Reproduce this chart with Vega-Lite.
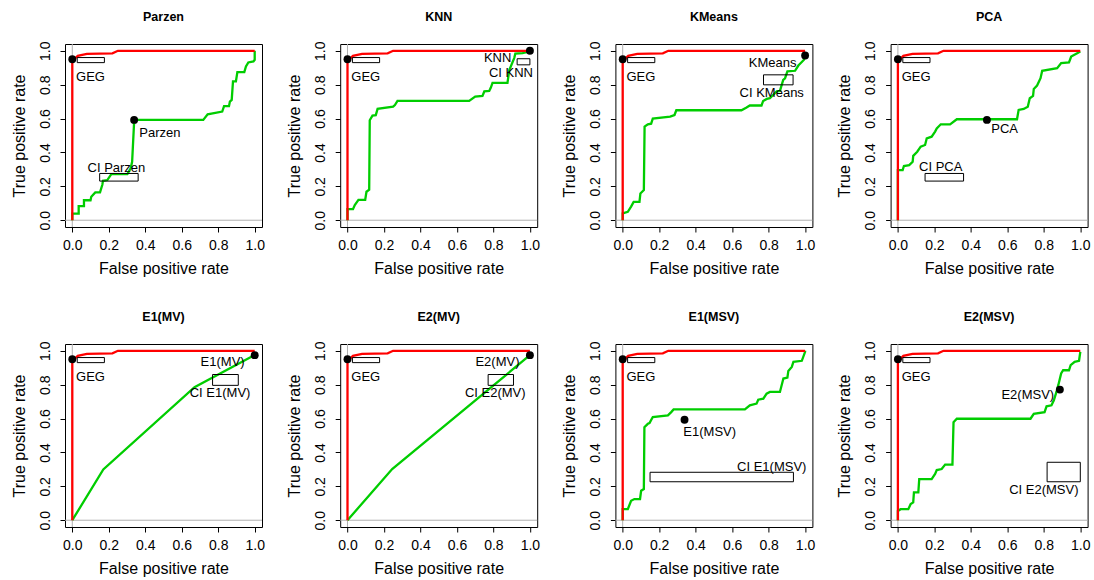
{
"$schema": "https://vega.github.io/schema/vega-lite/v6.json",
"padding": {"left": 10, "top": 10, "right": 5, "bottom": 5},
"config": {
 "font": "Liberation Sans",
 "view": {"stroke": "#000", "strokeWidth": 1},
 "axis": {"domain": false, "grid": false, "tickSize": 5, "tickColor": "#000", "tickWidth": 1, "labelFontSize": 14, "labelColor": "#000", "titleFontSize": 16, "titleFontWeight": "normal", "titleColor": "#000", "labelFlush": false, "labelOverlap": false},
 "axisX": {"labelPadding": 6, "titlePadding": 8},
 "axisY": {"labelAngle": -90, "labelAlign": "center", "labelBaseline": "bottom", "labelPadding": 8, "titlePadding": 11}
},
"data": {"values": [
{"p":"Parzen","k":"g","i":0,"x":0,"y":0},{"p":"Parzen","k":"g","i":1,"x":0,"y":0.93},{"p":"Parzen","k":"g","i":2,"x":0.015,"y":0.955},{"p":"Parzen","k":"g","i":3,"x":0.03,"y":0.97},{"p":"Parzen","k":"g","i":4,"x":0.08,"y":0.982},{"p":"Parzen","k":"g","i":5,"x":0.22,"y":0.985},{"p":"Parzen","k":"g","i":6,"x":0.25,"y":1},{"p":"Parzen","k":"g","i":7,"x":1,"y":1},
{"p":"KNN","k":"g","i":0,"x":0,"y":0},{"p":"KNN","k":"g","i":1,"x":0,"y":0.93},{"p":"KNN","k":"g","i":2,"x":0.015,"y":0.955},{"p":"KNN","k":"g","i":3,"x":0.03,"y":0.97},{"p":"KNN","k":"g","i":4,"x":0.08,"y":0.982},{"p":"KNN","k":"g","i":5,"x":0.22,"y":0.985},{"p":"KNN","k":"g","i":6,"x":0.25,"y":1},{"p":"KNN","k":"g","i":7,"x":1,"y":1},
{"p":"KMeans","k":"g","i":0,"x":0,"y":0},{"p":"KMeans","k":"g","i":1,"x":0,"y":0.93},{"p":"KMeans","k":"g","i":2,"x":0.015,"y":0.955},{"p":"KMeans","k":"g","i":3,"x":0.03,"y":0.97},{"p":"KMeans","k":"g","i":4,"x":0.08,"y":0.982},{"p":"KMeans","k":"g","i":5,"x":0.22,"y":0.985},{"p":"KMeans","k":"g","i":6,"x":0.25,"y":1},{"p":"KMeans","k":"g","i":7,"x":1,"y":1},
{"p":"PCA","k":"g","i":0,"x":0,"y":0},{"p":"PCA","k":"g","i":1,"x":0,"y":0.93},{"p":"PCA","k":"g","i":2,"x":0.015,"y":0.955},{"p":"PCA","k":"g","i":3,"x":0.03,"y":0.97},{"p":"PCA","k":"g","i":4,"x":0.08,"y":0.982},{"p":"PCA","k":"g","i":5,"x":0.22,"y":0.985},{"p":"PCA","k":"g","i":6,"x":0.25,"y":1},{"p":"PCA","k":"g","i":7,"x":1,"y":1},
{"p":"E1(MV)","k":"g","i":0,"x":0,"y":0},{"p":"E1(MV)","k":"g","i":1,"x":0,"y":0.93},{"p":"E1(MV)","k":"g","i":2,"x":0.015,"y":0.955},{"p":"E1(MV)","k":"g","i":3,"x":0.03,"y":0.97},{"p":"E1(MV)","k":"g","i":4,"x":0.08,"y":0.982},{"p":"E1(MV)","k":"g","i":5,"x":0.22,"y":0.985},{"p":"E1(MV)","k":"g","i":6,"x":0.25,"y":1},{"p":"E1(MV)","k":"g","i":7,"x":1,"y":1},
{"p":"E2(MV)","k":"g","i":0,"x":0,"y":0},{"p":"E2(MV)","k":"g","i":1,"x":0,"y":0.93},{"p":"E2(MV)","k":"g","i":2,"x":0.015,"y":0.955},{"p":"E2(MV)","k":"g","i":3,"x":0.03,"y":0.97},{"p":"E2(MV)","k":"g","i":4,"x":0.08,"y":0.982},{"p":"E2(MV)","k":"g","i":5,"x":0.22,"y":0.985},{"p":"E2(MV)","k":"g","i":6,"x":0.25,"y":1},{"p":"E2(MV)","k":"g","i":7,"x":1,"y":1},
{"p":"E1(MSV)","k":"g","i":0,"x":0,"y":0},{"p":"E1(MSV)","k":"g","i":1,"x":0,"y":0.93},{"p":"E1(MSV)","k":"g","i":2,"x":0.015,"y":0.955},{"p":"E1(MSV)","k":"g","i":3,"x":0.03,"y":0.97},{"p":"E1(MSV)","k":"g","i":4,"x":0.08,"y":0.982},{"p":"E1(MSV)","k":"g","i":5,"x":0.22,"y":0.985},{"p":"E1(MSV)","k":"g","i":6,"x":0.25,"y":1},{"p":"E1(MSV)","k":"g","i":7,"x":1,"y":1},
{"p":"E2(MSV)","k":"g","i":0,"x":0,"y":0},{"p":"E2(MSV)","k":"g","i":1,"x":0,"y":0.93},{"p":"E2(MSV)","k":"g","i":2,"x":0.015,"y":0.955},{"p":"E2(MSV)","k":"g","i":3,"x":0.03,"y":0.97},{"p":"E2(MSV)","k":"g","i":4,"x":0.08,"y":0.982},{"p":"E2(MSV)","k":"g","i":5,"x":0.22,"y":0.985},{"p":"E2(MSV)","k":"g","i":6,"x":0.25,"y":1},{"p":"E2(MSV)","k":"g","i":7,"x":1,"y":1},

{"p":"Parzen","k":"r","i":0,"x":0,"y":0},{"p":"Parzen","k":"r","i":1,"x":0,"y":0.039},{"p":"Parzen","k":"r","i":2,"x":0.035,"y":0.039},{"p":"Parzen","k":"r","i":3,"x":0.035,"y":0.083},{"p":"Parzen","k":"r","i":4,"x":0.064,"y":0.083},{"p":"Parzen","k":"r","i":5,"x":0.064,"y":0.118},{"p":"Parzen","k":"r","i":6,"x":0.1,"y":0.118},{"p":"Parzen","k":"r","i":7,"x":0.104,"y":0.138},{"p":"Parzen","k":"r","i":8,"x":0.126,"y":0.164},{"p":"Parzen","k":"r","i":9,"x":0.152,"y":0.164},{"p":"Parzen","k":"r","i":10,"x":0.165,"y":0.211},{"p":"Parzen","k":"r","i":11,"x":0.168,"y":0.233},{"p":"Parzen","k":"r","i":12,"x":0.192,"y":0.237},{"p":"Parzen","k":"r","i":13,"x":0.214,"y":0.272},{"p":"Parzen","k":"r","i":14,"x":0.302,"y":0.272},{"p":"Parzen","k":"r","i":15,"x":0.32,"y":0.306},{"p":"Parzen","k":"r","i":16,"x":0.328,"y":0.345},{"p":"Parzen","k":"r","i":17,"x":0.339,"y":0.582},{"p":"Parzen","k":"r","i":18,"x":0.342,"y":0.592},{"p":"Parzen","k":"r","i":19,"x":0.718,"y":0.592},{"p":"Parzen","k":"r","i":20,"x":0.742,"y":0.625},{"p":"Parzen","k":"r","i":21,"x":0.822,"y":0.641},{"p":"Parzen","k":"r","i":22,"x":0.832,"y":0.673},{"p":"Parzen","k":"r","i":23,"x":0.859,"y":0.673},{"p":"Parzen","k":"r","i":24,"x":0.864,"y":0.7},{"p":"Parzen","k":"r","i":25,"x":0.874,"y":0.71},{"p":"Parzen","k":"r","i":26,"x":0.881,"y":0.819},{"p":"Parzen","k":"r","i":27,"x":0.897,"y":0.819},{"p":"Parzen","k":"r","i":28,"x":0.905,"y":0.874},{"p":"Parzen","k":"r","i":29,"x":0.943,"y":0.874},{"p":"Parzen","k":"r","i":30,"x":0.952,"y":0.907},{"p":"Parzen","k":"r","i":31,"x":0.965,"y":0.931},{"p":"Parzen","k":"r","i":32,"x":0.993,"y":0.937},{"p":"Parzen","k":"r","i":33,"x":1,"y":0.947},{"p":"Parzen","k":"r","i":34,"x":1,"y":1},

{"p":"KNN","k":"r","i":0,"x":0,"y":0},{"p":"KNN","k":"r","i":1,"x":0,"y":0.065},{"p":"KNN","k":"r","i":2,"x":0.03,"y":0.065},{"p":"KNN","k":"r","i":3,"x":0.04,"y":0.09},{"p":"KNN","k":"r","i":4,"x":0.06,"y":0.12},{"p":"KNN","k":"r","i":5,"x":0.097,"y":0.12},{"p":"KNN","k":"r","i":6,"x":0.104,"y":0.168},{"p":"KNN","k":"r","i":7,"x":0.119,"y":0.18},{"p":"KNN","k":"r","i":8,"x":0.122,"y":0.59},{"p":"KNN","k":"r","i":9,"x":0.137,"y":0.617},{"p":"KNN","k":"r","i":10,"x":0.155,"y":0.62},{"p":"KNN","k":"r","i":11,"x":0.165,"y":0.657},{"p":"KNN","k":"r","i":12,"x":0.25,"y":0.67},{"p":"KNN","k":"r","i":13,"x":0.26,"y":0.68},{"p":"KNN","k":"r","i":14,"x":0.274,"y":0.704},{"p":"KNN","k":"r","i":15,"x":0.667,"y":0.704},{"p":"KNN","k":"r","i":16,"x":0.7,"y":0.73},{"p":"KNN","k":"r","i":17,"x":0.74,"y":0.734},{"p":"KNN","k":"r","i":18,"x":0.75,"y":0.76},{"p":"KNN","k":"r","i":19,"x":0.777,"y":0.763},{"p":"KNN","k":"r","i":20,"x":0.786,"y":0.783},{"p":"KNN","k":"r","i":21,"x":0.795,"y":0.81},{"p":"KNN","k":"r","i":22,"x":0.877,"y":0.81},{"p":"KNN","k":"r","i":23,"x":0.887,"y":0.886},{"p":"KNN","k":"r","i":24,"x":0.914,"y":0.957},{"p":"KNN","k":"r","i":25,"x":0.92,"y":0.983},{"p":"KNN","k":"r","i":26,"x":0.96,"y":0.986},{"p":"KNN","k":"r","i":27,"x":1,"y":0.996},{"p":"KNN","k":"r","i":28,"x":1,"y":1},

{"p":"KMeans","k":"r","i":0,"x":0,"y":0},{"p":"KMeans","k":"r","i":1,"x":0,"y":0.04},{"p":"KMeans","k":"r","i":2,"x":0.028,"y":0.05},{"p":"KMeans","k":"r","i":3,"x":0.046,"y":0.08},{"p":"KMeans","k":"r","i":4,"x":0.06,"y":0.108},{"p":"KMeans","k":"r","i":5,"x":0.092,"y":0.108},{"p":"KMeans","k":"r","i":6,"x":0.097,"y":0.158},{"p":"KMeans","k":"r","i":7,"x":0.116,"y":0.178},{"p":"KMeans","k":"r","i":8,"x":0.12,"y":0.552},{"p":"KMeans","k":"r","i":9,"x":0.138,"y":0.566},{"p":"KMeans","k":"r","i":10,"x":0.156,"y":0.57},{"p":"KMeans","k":"r","i":11,"x":0.165,"y":0.6},{"p":"KMeans","k":"r","i":12,"x":0.26,"y":0.611},{"p":"KMeans","k":"r","i":13,"x":0.284,"y":0.621},{"p":"KMeans","k":"r","i":14,"x":0.294,"y":0.649},{"p":"KMeans","k":"r","i":15,"x":0.651,"y":0.649},{"p":"KMeans","k":"r","i":16,"x":0.679,"y":0.665},{"p":"KMeans","k":"r","i":17,"x":0.697,"y":0.677},{"p":"KMeans","k":"r","i":18,"x":0.761,"y":0.677},{"p":"KMeans","k":"r","i":19,"x":0.77,"y":0.704},{"p":"KMeans","k":"r","i":20,"x":0.79,"y":0.716},{"p":"KMeans","k":"r","i":21,"x":0.807,"y":0.72},{"p":"KMeans","k":"r","i":22,"x":0.844,"y":0.76},{"p":"KMeans","k":"r","i":23,"x":0.862,"y":0.763},{"p":"KMeans","k":"r","i":24,"x":0.88,"y":0.828},{"p":"KMeans","k":"r","i":25,"x":0.89,"y":0.838},{"p":"KMeans","k":"r","i":26,"x":0.903,"y":0.878},{"p":"KMeans","k":"r","i":27,"x":0.945,"y":0.882},{"p":"KMeans","k":"r","i":28,"x":0.963,"y":0.913},{"p":"KMeans","k":"r","i":29,"x":0.994,"y":0.947},{"p":"KMeans","k":"r","i":30,"x":1,"y":0.972},

{"p":"PCA","k":"r","i":0,"x":0,"y":0},{"p":"PCA","k":"r","i":1,"x":0,"y":0.296},{"p":"PCA","k":"r","i":2,"x":0.026,"y":0.296},{"p":"PCA","k":"r","i":3,"x":0.033,"y":0.32},{"p":"PCA","k":"r","i":4,"x":0.062,"y":0.325},{"p":"PCA","k":"r","i":5,"x":0.081,"y":0.345},{"p":"PCA","k":"r","i":6,"x":0.084,"y":0.38},{"p":"PCA","k":"r","i":7,"x":0.106,"y":0.404},{"p":"PCA","k":"r","i":8,"x":0.125,"y":0.434},{"p":"PCA","k":"r","i":9,"x":0.149,"y":0.444},{"p":"PCA","k":"r","i":10,"x":0.158,"y":0.483},{"p":"PCA","k":"r","i":11,"x":0.185,"y":0.493},{"p":"PCA","k":"r","i":12,"x":0.204,"y":0.523},{"p":"PCA","k":"r","i":13,"x":0.213,"y":0.542},{"p":"PCA","k":"r","i":14,"x":0.235,"y":0.566},{"p":"PCA","k":"r","i":15,"x":0.286,"y":0.566},{"p":"PCA","k":"r","i":16,"x":0.323,"y":0.596},{"p":"PCA","k":"r","i":17,"x":0.653,"y":0.596},{"p":"PCA","k":"r","i":18,"x":0.662,"y":0.651},{"p":"PCA","k":"r","i":19,"x":0.69,"y":0.657},{"p":"PCA","k":"r","i":20,"x":0.712,"y":0.67},{"p":"PCA","k":"r","i":21,"x":0.723,"y":0.72},{"p":"PCA","k":"r","i":22,"x":0.741,"y":0.734},{"p":"PCA","k":"r","i":23,"x":0.745,"y":0.775},{"p":"PCA","k":"r","i":24,"x":0.763,"y":0.795},{"p":"PCA","k":"r","i":25,"x":0.782,"y":0.838},{"p":"PCA","k":"r","i":26,"x":0.791,"y":0.882},{"p":"PCA","k":"r","i":27,"x":0.873,"y":0.897},{"p":"PCA","k":"r","i":28,"x":0.895,"y":0.927},{"p":"PCA","k":"r","i":29,"x":0.938,"y":0.931},{"p":"PCA","k":"r","i":30,"x":0.95,"y":0.966},{"p":"PCA","k":"r","i":31,"x":0.983,"y":0.986},{"p":"PCA","k":"r","i":32,"x":1,"y":0.996},

{"p":"E1(MV)","k":"r","i":0,"x":0,"y":0},{"p":"E1(MV)","k":"r","i":1,"x":0.17,"y":0.3},{"p":"E1(MV)","k":"r","i":2,"x":0.67,"y":0.785},{"p":"E1(MV)","k":"r","i":3,"x":1,"y":0.975},
{"p":"E2(MV)","k":"r","i":0,"x":0,"y":0},{"p":"E2(MV)","k":"r","i":1,"x":0.245,"y":0.302},{"p":"E2(MV)","k":"r","i":2,"x":1,"y":0.974},

{"p":"E1(MSV)","k":"r","i":0,"x":0,"y":0},{"p":"E1(MSV)","k":"r","i":1,"x":0,"y":0.065},{"p":"E1(MSV)","k":"r","i":2,"x":0.028,"y":0.065},{"p":"E1(MSV)","k":"r","i":3,"x":0.046,"y":0.115},{"p":"E1(MSV)","k":"r","i":4,"x":0.064,"y":0.125},{"p":"E1(MSV)","k":"r","i":5,"x":0.095,"y":0.125},{"p":"E1(MSV)","k":"r","i":6,"x":0.101,"y":0.174},{"p":"E1(MSV)","k":"r","i":7,"x":0.116,"y":0.184},{"p":"E1(MSV)","k":"r","i":8,"x":0.119,"y":0.549},{"p":"E1(MSV)","k":"r","i":9,"x":0.138,"y":0.569},{"p":"E1(MSV)","k":"r","i":10,"x":0.147,"y":0.573},{"p":"E1(MSV)","k":"r","i":11,"x":0.165,"y":0.609},{"p":"E1(MSV)","k":"r","i":12,"x":0.248,"y":0.619},{"p":"E1(MSV)","k":"r","i":13,"x":0.266,"y":0.638},{"p":"E1(MSV)","k":"r","i":14,"x":0.279,"y":0.654},{"p":"E1(MSV)","k":"r","i":15,"x":0.67,"y":0.654},{"p":"E1(MSV)","k":"r","i":16,"x":0.697,"y":0.678},{"p":"E1(MSV)","k":"r","i":17,"x":0.734,"y":0.688},{"p":"E1(MSV)","k":"r","i":18,"x":0.743,"y":0.711},{"p":"E1(MSV)","k":"r","i":19,"x":0.771,"y":0.717},{"p":"E1(MSV)","k":"r","i":20,"x":0.789,"y":0.747},{"p":"E1(MSV)","k":"r","i":21,"x":0.807,"y":0.757},{"p":"E1(MSV)","k":"r","i":22,"x":0.862,"y":0.757},{"p":"E1(MSV)","k":"r","i":23,"x":0.881,"y":0.836},{"p":"E1(MSV)","k":"r","i":24,"x":0.903,"y":0.842},{"p":"E1(MSV)","k":"r","i":25,"x":0.908,"y":0.881},{"p":"E1(MSV)","k":"r","i":26,"x":0.927,"y":0.905},{"p":"E1(MSV)","k":"r","i":27,"x":0.936,"y":0.935},{"p":"E1(MSV)","k":"r","i":28,"x":0.982,"y":0.941},{"p":"E1(MSV)","k":"r","i":29,"x":1,"y":0.994},{"p":"E1(MSV)","k":"r","i":30,"x":1,"y":1},

{"p":"E2(MSV)","k":"r","i":0,"x":0,"y":0},{"p":"E2(MSV)","k":"r","i":1,"x":0,"y":0.055},{"p":"E2(MSV)","k":"r","i":2,"x":0.015,"y":0.065},{"p":"E2(MSV)","k":"r","i":3,"x":0.057,"y":0.065},{"p":"E2(MSV)","k":"r","i":4,"x":0.07,"y":0.095},{"p":"E2(MSV)","k":"r","i":5,"x":0.084,"y":0.105},{"p":"E2(MSV)","k":"r","i":6,"x":0.088,"y":0.164},{"p":"E2(MSV)","k":"r","i":7,"x":0.112,"y":0.164},{"p":"E2(MSV)","k":"r","i":8,"x":0.117,"y":0.243},{"p":"E2(MSV)","k":"r","i":9,"x":0.185,"y":0.243},{"p":"E2(MSV)","k":"r","i":10,"x":0.204,"y":0.273},{"p":"E2(MSV)","k":"r","i":11,"x":0.213,"y":0.296},{"p":"E2(MSV)","k":"r","i":12,"x":0.24,"y":0.302},{"p":"E2(MSV)","k":"r","i":13,"x":0.259,"y":0.328},{"p":"E2(MSV)","k":"r","i":14,"x":0.299,"y":0.328},{"p":"E2(MSV)","k":"r","i":15,"x":0.305,"y":0.579},{"p":"E2(MSV)","k":"r","i":16,"x":0.323,"y":0.599},{"p":"E2(MSV)","k":"r","i":17,"x":0.727,"y":0.599},{"p":"E2(MSV)","k":"r","i":18,"x":0.745,"y":0.628},{"p":"E2(MSV)","k":"r","i":19,"x":0.804,"y":0.638},{"p":"E2(MSV)","k":"r","i":20,"x":0.815,"y":0.672},{"p":"E2(MSV)","k":"r","i":21,"x":0.842,"y":0.678},{"p":"E2(MSV)","k":"r","i":22,"x":0.855,"y":0.708},{"p":"E2(MSV)","k":"r","i":23,"x":0.87,"y":0.76},{"p":"E2(MSV)","k":"r","i":24,"x":0.88,"y":0.8},{"p":"E2(MSV)","k":"r","i":25,"x":0.895,"y":0.866},{"p":"E2(MSV)","k":"r","i":26,"x":0.906,"y":0.885},{"p":"E2(MSV)","k":"r","i":27,"x":0.938,"y":0.885},{"p":"E2(MSV)","k":"r","i":28,"x":0.947,"y":0.915},{"p":"E2(MSV)","k":"r","i":29,"x":0.969,"y":0.935},{"p":"E2(MSV)","k":"r","i":30,"x":0.993,"y":0.941},{"p":"E2(MSV)","k":"r","i":31,"x":1,"y":0.994},

{"p":"Parzen","k":"pt","t":"GEG","x":0,"y":0.95},{"p":"Parzen","k":"pt","t":"Parzen","x":0.339,"y":0.592},
{"p":"KNN","k":"pt","t":"GEG","x":0,"y":0.95},{"p":"KNN","k":"pt","t":"KNN","x":1,"y":1},
{"p":"KMeans","k":"pt","t":"GEG","x":0,"y":0.95},{"p":"KMeans","k":"pt","t":"KMeans","x":1,"y":0.972},
{"p":"PCA","k":"pt","t":"GEG","x":0,"y":0.95},{"p":"PCA","k":"pt","t":"PCA","x":0.488,"y":0.592},
{"p":"E1(MV)","k":"pt","t":"GEG","x":0,"y":0.95},{"p":"E1(MV)","k":"pt","t":"E1(MV)","x":1,"y":0.974},
{"p":"E2(MV)","k":"pt","t":"GEG","x":0,"y":0.95},{"p":"E2(MV)","k":"pt","t":"E2(MV)","x":1,"y":0.974},
{"p":"E1(MSV)","k":"pt","t":"GEG","x":0,"y":0.95},{"p":"E1(MSV)","k":"pt","t":"E1(MSV)","x":0.339,"y":0.593},
{"p":"E2(MSV)","k":"pt","t":"GEG","x":0,"y":0.95},{"p":"E2(MSV)","k":"pt","t":"E2(MSV)","x":0.888,"y":0.771},

{"p":"Parzen","k":"ci","x":0.027,"x2":0.176,"y":0.93,"y2":0.96},{"p":"Parzen","k":"ci","x":0.15,"x2":0.361,"y":0.231,"y2":0.276},
{"p":"KNN","k":"ci","x":0.027,"x2":0.176,"y":0.93,"y2":0.96},{"p":"KNN","k":"ci","x":0.93,"x2":1,"y":0.917,"y2":0.953},
{"p":"KMeans","k":"ci","x":0.027,"x2":0.176,"y":0.93,"y2":0.96},{"p":"KMeans","k":"ci","x":0.772,"x2":0.934,"y":0.799,"y2":0.858},
{"p":"PCA","k":"ci","x":0.027,"x2":0.176,"y":0.93,"y2":0.96},{"p":"PCA","k":"ci","x":0.149,"x2":0.36,"y":0.231,"y2":0.276},
{"p":"E1(MV)","k":"ci","x":0.027,"x2":0.176,"y":0.93,"y2":0.96},{"p":"E1(MV)","k":"ci","x":0.769,"x2":0.91,"y":0.796,"y2":0.86},
{"p":"E2(MV)","k":"ci","x":0.027,"x2":0.176,"y":0.93,"y2":0.96},{"p":"E2(MV)","k":"ci","x":0.771,"x2":0.91,"y":0.796,"y2":0.86},
{"p":"E1(MSV)","k":"ci","x":0.027,"x2":0.176,"y":0.93,"y2":0.96},{"p":"E1(MSV)","k":"ci","x":0.15,"x2":0.936,"y":0.227,"y2":0.283},
{"p":"E2(MSV)","k":"ci","x":0.027,"x2":0.176,"y":0.93,"y2":0.96},{"p":"E2(MSV)","k":"ci","x":0.818,"x2":1,"y":0.227,"y2":0.342},

{"p":"Parzen","k":"lab","t":"GEG","x":0.1,"y":0.845},{"p":"Parzen","k":"lab","t":"Parzen","x":0.48,"y":0.513},{"p":"Parzen","k":"lab","t":"CI Parzen","x":0.242,"y":0.31},
{"p":"KNN","k":"lab","t":"GEG","x":0.1,"y":0.845},{"p":"KNN","k":"lab","t":"KNN","x":0.823,"y":0.957},{"p":"KNN","k":"lab","t":"CI KNN","x":0.896,"y":0.868},
{"p":"KMeans","k":"lab","t":"GEG","x":0.1,"y":0.845},{"p":"KMeans","k":"lab","t":"KMeans","x":0.822,"y":0.927},{"p":"KMeans","k":"lab","t":"CI KMeans","x":0.817,"y":0.75},
{"p":"PCA","k":"lab","t":"GEG","x":0.1,"y":0.845},{"p":"PCA","k":"lab","t":"PCA","x":0.585,"y":0.536},{"p":"PCA","k":"lab","t":"CI PCA","x":0.235,"y":0.312},
{"p":"E1(MV)","k":"lab","t":"GEG","x":0.1,"y":0.845},{"p":"E1(MV)","k":"lab","t":"E1(MV)","x":0.824,"y":0.935},{"p":"E1(MV)","k":"lab","t":"CI E1(MV)","x":0.81,"y":0.751},
{"p":"E2(MV)","k":"lab","t":"GEG","x":0.1,"y":0.845},{"p":"E2(MV)","k":"lab","t":"E2(MV)","x":0.822,"y":0.935},{"p":"E2(MV)","k":"lab","t":"CI E2(MV)","x":0.81,"y":0.751},
{"p":"E1(MSV)","k":"lab","t":"GEG","x":0.1,"y":0.845},{"p":"E1(MSV)","k":"lab","t":"E1(MSV)","x":0.477,"y":0.52},{"p":"E1(MSV)","k":"lab","t":"CI E1(MSV)","x":0.817,"y":0.316},
{"p":"E2(MSV)","k":"lab","t":"GEG","x":0.1,"y":0.845},{"p":"E2(MSV)","k":"lab","t":"E2(MSV)","x":0.712,"y":0.737},{"p":"E2(MSV)","k":"lab","t":"CI E2(MSV)","x":0.8,"y":0.178}
]},
"facet": {"field": "p", "type": "nominal", "title": null, "sort": ["Parzen","KNN","KMeans","PCA","E1(MV)","E2(MV)","E1(MSV)","E2(MSV)"],
  "header": {"title": null, "labelFont": "Liberation Sans", "labelFontSize": 12.5, "labelFontWeight": "bold", "labelColor": "#000", "labelPadding": 18}},
"columns": 4,
"spacing": {"row": 33, "column": 20.2},
"resolve": {"axis": {"x": "independent", "y": "independent"}},
"spec": {
 "width": 197, "height": 183,
 "layer": [
  {"transform": [{"filter": "datum.k == 'pt' && datum.t == 'GEG'"}],
   "mark": {"type": "rule", "color": "#b0b0b0", "strokeWidth": 1},
   "encoding": {"x": {"datum": 0, "type": "quantitative", "scale": {"domain": [-0.04, 1.04], "nice": false, "zero": false}, "axis": {"title": "False positive rate", "values": [0,0.2,0.4,0.6,0.8,1], "format": ".1f"}}}},
  {"transform": [{"filter": "datum.k == 'pt' && datum.t == 'GEG'"}],
   "mark": {"type": "rule", "color": "#b0b0b0", "strokeWidth": 1},
   "encoding": {"y": {"datum": 0, "type": "quantitative", "scale": {"domain": [-0.04, 1.04], "nice": false, "zero": false}, "axis": {"title": "True positive rate", "values": [0,0.2,0.4,0.6,0.8,1], "format": ".1f"}}}},
  {"transform": [{"filter": "datum.k == 'r'"}],
   "mark": {"type": "line", "color": "#00cd00", "strokeWidth": 2.3, "interpolate": "linear"},
   "encoding": {
     "x": {"field": "x", "type": "quantitative", "scale": {"domain": [-0.04, 1.04], "nice": false, "zero": false}, "axis": {"title": "False positive rate", "values": [0,0.2,0.4,0.6,0.8,1], "format": ".1f"}},
     "y": {"field": "y", "type": "quantitative", "scale": {"domain": [-0.04, 1.04], "nice": false, "zero": false}, "axis": {"title": "True positive rate", "values": [0,0.2,0.4,0.6,0.8,1], "format": ".1f"}},
     "order": {"field": "i", "type": "quantitative"}}},
  {"transform": [{"filter": "datum.k == 'g'"}],
   "mark": {"type": "line", "color": "#ff0000", "strokeWidth": 2.3, "interpolate": "linear"},
   "encoding": {
     "x": {"field": "x", "type": "quantitative", "scale": {"domain": [-0.04, 1.04], "nice": false, "zero": false}, "axis": {"title": "False positive rate", "values": [0,0.2,0.4,0.6,0.8,1], "format": ".1f"}},
     "y": {"field": "y", "type": "quantitative", "scale": {"domain": [-0.04, 1.04], "nice": false, "zero": false}, "axis": {"title": "True positive rate", "values": [0,0.2,0.4,0.6,0.8,1], "format": ".1f"}},
     "order": {"field": "i", "type": "quantitative"}}},
  {"transform": [{"filter": "datum.k == 'ci'"}],
   "mark": {"type": "rect", "fillOpacity": 0, "fill": "#ffffff", "stroke": "#000", "strokeWidth": 1},
   "encoding": {
     "x": {"field": "x", "type": "quantitative", "scale": {"domain": [-0.04, 1.04], "nice": false, "zero": false}, "axis": {"title": "False positive rate", "values": [0,0.2,0.4,0.6,0.8,1], "format": ".1f"}},
     "x2": {"field": "x2"},
     "y": {"field": "y", "type": "quantitative", "scale": {"domain": [-0.04, 1.04], "nice": false, "zero": false}, "axis": {"title": "True positive rate", "values": [0,0.2,0.4,0.6,0.8,1], "format": ".1f"}},
     "y2": {"field": "y2"}}},
  {"transform": [{"filter": "datum.k == 'pt'"}],
   "mark": {"type": "circle", "size": 62, "color": "#000", "opacity": 1},
   "encoding": {
     "x": {"field": "x", "type": "quantitative", "scale": {"domain": [-0.04, 1.04], "nice": false, "zero": false}, "axis": {"title": "False positive rate", "values": [0,0.2,0.4,0.6,0.8,1], "format": ".1f"}},
     "y": {"field": "y", "type": "quantitative", "scale": {"domain": [-0.04, 1.04], "nice": false, "zero": false}, "axis": {"title": "True positive rate", "values": [0,0.2,0.4,0.6,0.8,1], "format": ".1f"}}}},
  {"transform": [{"filter": "datum.k == 'lab'"}],
   "mark": {"type": "text", "fontSize": 13, "color": "#000", "font": "Liberation Sans"},
   "encoding": {
     "x": {"field": "x", "type": "quantitative", "scale": {"domain": [-0.04, 1.04], "nice": false, "zero": false}, "axis": {"title": "False positive rate", "values": [0,0.2,0.4,0.6,0.8,1], "format": ".1f"}},
     "y": {"field": "y", "type": "quantitative", "scale": {"domain": [-0.04, 1.04], "nice": false, "zero": false}, "axis": {"title": "True positive rate", "values": [0,0.2,0.4,0.6,0.8,1], "format": ".1f"}},
     "text": {"field": "t", "type": "nominal"}}}
 ]
}
}
